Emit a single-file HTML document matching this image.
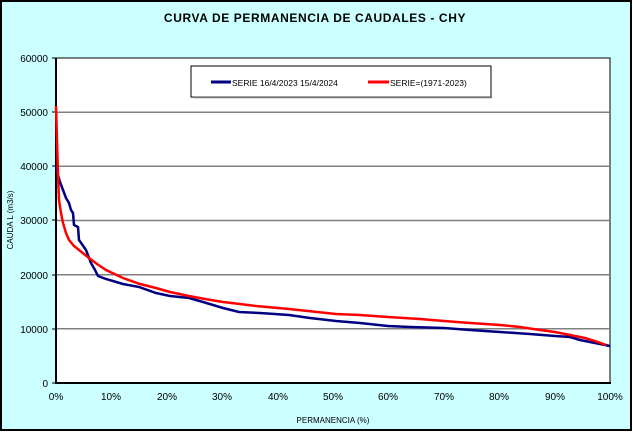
<!DOCTYPE html>
<html><head><style>
body{margin:0;width:633px;height:432px;overflow:hidden;background:#fff}
</style></head><body>
<svg width="633" height="432" xmlns="http://www.w3.org/2000/svg" font-family="Liberation Sans, sans-serif">
<rect x="1" y="1" width="630" height="429" fill="#ccffff" stroke="#000" stroke-width="2"/>
<text x="315" y="22" text-anchor="middle" font-size="12" font-weight="bold" letter-spacing="0.6">CURVA DE PERMANENCIA DE CAUDALES - CHY</text>
<rect x="56" y="58" width="554" height="325" fill="#fff" stroke="#000" stroke-width="1"/>
<g stroke="#808080" stroke-width="1.5">
<line x1="56" x2="610" y1="112.2" y2="112.2"/>
<line x1="56" x2="610" y1="166.3" y2="166.3"/>
<line x1="56" x2="610" y1="220.5" y2="220.5"/>
<line x1="56" x2="610" y1="274.7" y2="274.7"/>
<line x1="56" x2="610" y1="328.8" y2="328.8"/>
</g>
<line x1="56" y1="58" x2="56" y2="384" stroke="#000" stroke-width="2"/>
<line x1="55" y1="383" x2="611" y2="383" stroke="#000" stroke-width="2"/>
<g font-size="10" text-anchor="end">
<text x="48" y="62">60000</text><text x="48" y="116">50000</text><text x="48" y="170">40000</text>
<text x="48" y="224">30000</text><text x="48" y="279">20000</text><text x="48" y="333">10000</text><text x="48" y="387">0</text>
</g>
<g stroke="#000"><line x1="52" x2="56" y1="58" y2="58"/><line x1="52" x2="56" y1="112" y2="112"/><line x1="52" x2="56" y1="166" y2="166"/><line x1="52" x2="56" y1="220" y2="220"/><line x1="52" x2="56" y1="275" y2="275"/><line x1="52" x2="56" y1="329" y2="329"/><line x1="52" x2="56" y1="383" y2="383"/></g>
<g font-size="10" text-anchor="middle">
<text x="56" y="400">0%</text><text x="111" y="400">10%</text><text x="167" y="400">20%</text><text x="222" y="400">30%</text><text x="278" y="400">40%</text><text x="333" y="400">50%</text><text x="388" y="400">60%</text><text x="444" y="400">70%</text><text x="499" y="400">80%</text><text x="555" y="400">90%</text><text x="610" y="400">100%</text>
</g>
<text x="333" y="423" text-anchor="middle" font-size="8">PERMANENCIA (%)</text>
<text transform="translate(13,220) rotate(-90)" text-anchor="middle" font-size="8">CAUDA L (m3/s)</text>
<rect x="191" y="66" width="300" height="31" fill="#fff" stroke="#000"/>
<line x1="193" y1="97.5" x2="492" y2="97.5" stroke="#777" stroke-width="1.5"/>
<line x1="211" y1="82" x2="231" y2="82" stroke="#000080" stroke-width="3"/>
<text x="232" y="86" font-size="8.5">SERIE 16/4/2023 15/4/2024</text>
<line x1="368" y1="82" x2="389" y2="82" stroke="#f00" stroke-width="3"/>
<text x="390" y="86" font-size="8.5">SERIE=(1971-2023)</text>
<polyline fill="none" stroke="#000080" stroke-width="2.5" points="56,166 57,172 60,182 63,190 66,198 69,203 71,210 73,213 74,225 78,227 79,240 86,250 91,263 95,270 98,276 106,279 123,284 139,287 156,293 170,296 189,298 203,302 223,308 239,312 260,313 289,315 310,318 336,321 360,323 388,326 410,327 444,328 470,330 500,332 530,334 555,336 570,337 580,340 595,343 610,346"/>
<polyline fill="none" stroke="#f00" stroke-width="2.5" points="56,106 57,140 58,175 59,200 61,213 63,223 66,233 69,240 74,246 79,250 89,258 97,264 106,270 123,278 140,284 156,288 170,292 189,296 205,299 223,302 240,304 256,306 289,309 336,314 360,315 388,317 420,319 444,321 470,323 500,325 520,327 540,330 555,332 570,335 585,338 598,342 606,345"/>
</svg>
</body></html>
